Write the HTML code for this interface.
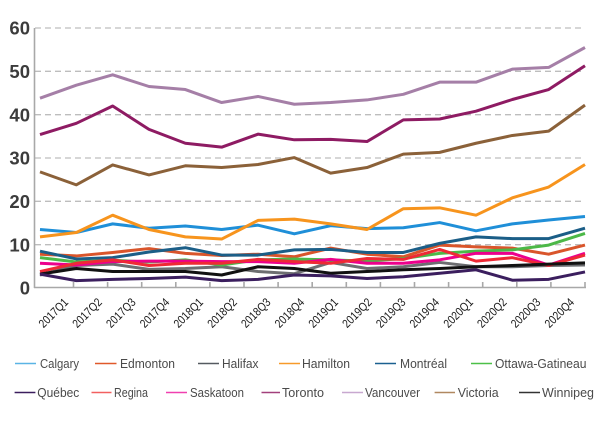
<!DOCTYPE html>
<html><head><meta charset="utf-8"><style>
html,body{margin:0;padding:0;background:#fff;}
svg{display:block;font-family:"Liberation Sans",sans-serif;}
</style></head><body>
<svg width="600" height="432" viewBox="0 0 600 432" xmlns="http://www.w3.org/2000/svg">
<!-- gridlines -->
<g stroke="#bdbdbd" stroke-width="1.3" stroke-dasharray="6,4">
<line x1="35" y1="28" x2="585" y2="28"/>
<line x1="35" y1="71.3" x2="585" y2="71.3"/>
<line x1="35" y1="114.7" x2="585" y2="114.7"/>
<line x1="35" y1="158" x2="585" y2="158"/>
<line x1="35" y1="201.3" x2="585" y2="201.3"/>
<line x1="35" y1="244.7" x2="585" y2="244.7"/>
</g>
<!-- y labels -->
<g font-weight="bold" font-size="18.5" fill="#3c3c3c" text-anchor="end">
<text x="30" y="34.7">60</text>
<text x="30" y="78">50</text>
<text x="30" y="121.4">40</text>
<text x="30" y="164.7">30</text>
<text x="30" y="208">20</text>
<text x="30" y="251.4">10</text>
<text x="30" y="294.7">0</text>
</g>
<!-- axes -->
<g stroke="#a8a8a8" stroke-width="1.6" fill="none">
<line x1="34.5" y1="28" x2="34.5" y2="288"/>
<line x1="34" y1="287.5" x2="586" y2="287.5"/>
<path d="M73.5 282V288M107.6 282V288M141.7 282V288M175.8 282V288M209.9 282V288M244 282V288M278.1 282V288M312.2 282V288M346.3 282V288M380.4 282V288M414.5 282V288M448.6 282V288M482.7 282V288M516.8 282V288M550.9 282V288M585 282V288"/>
</g>
<!-- series -->
<g transform="translate(40,288) scale(36.3333,-4.33333)" fill="none" stroke-width="3" stroke-linejoin="round" stroke-linecap="butt">
<polyline vector-effect="non-scaling-stroke" stroke="#1f8fd8" points="0,13.5 1,12.8 2,14.8 3,13.8 4,14.3 5,13.5 6,14.5 7,12.5 8,14.4 9,13.7 10,13.9 11,15.1 12,13.2 13,14.8 14,15.7 15,16.5"/>
<polyline vector-effect="non-scaling-stroke" stroke="#d9552b" points="0,7.8 1,7.4 2,8.2 3,9.1 4,8.0 5,7.5 6,7.8 7,7.2 8,9.2 9,7.8 10,7.2 11,9.9 12,9.5 13,9.2 14,7.8 15,9.9"/>
<polyline vector-effect="non-scaling-stroke" stroke="#6d6e71" points="0,3.0 1,5.2 2,5.5 3,4.3 4,4.5 5,4.9 6,3.8 7,3.3 8,5.9 9,4.5 10,4.9 11,5.9 12,4.9 13,4.9 14,5.2 15,5.3"/>
<polyline vector-effect="non-scaling-stroke" stroke="#f7941d" points="0,11.8 1,12.8 2,16.8 3,13.5 4,11.8 5,11.3 6,15.6 7,15.9 8,14.8 9,13.5 10,18.3 11,18.5 12,16.8 13,20.8 14,23.3 15,28.5"/>
<polyline vector-effect="non-scaling-stroke" stroke="#1b5e87" points="0,8.5 1,6.7 2,7.0 3,8.3 4,9.3 5,7.6 6,7.6 7,8.8 8,8.9 9,8.2 10,8.2 11,10.3 12,11.8 13,11.4 14,11.4 15,13.8"/>
<polyline vector-effect="non-scaling-stroke" stroke="#4cb848" points="0,7.0 1,6.0 2,6.4 3,6.0 4,6.5 5,5.3 6,6.5 7,6.7 8,6.5 9,6.2 10,6.8 11,8.0 12,8.5 13,8.8 14,9.9 15,12.6"/>
<polyline vector-effect="non-scaling-stroke" stroke="#ec008c" points="0,5.7 1,5.3 2,6.1 3,6.2 4,6.2 5,6.1 6,6.1 7,5.7 8,6.6 9,5.7 10,5.7 11,6.5 12,8.0 13,8.0 14,5.3 15,8.0"/>
<polyline vector-effect="non-scaling-stroke" stroke="#ee2a35" points="0,3.8 1,5.7 2,6.5 3,5.2 4,5.7 5,5.7 6,6.6 7,6.1 8,5.7 9,6.8 10,6.6 11,8.9 12,6.2 13,7.0 14,5.2 15,7.6"/>
<polyline vector-effect="non-scaling-stroke" stroke="#8e1b63" points="0,35.4 1,38.0 2,42.0 3,36.6 4,33.4 5,32.5 6,35.5 7,34.2 8,34.3 9,33.8 10,38.8 11,39.0 12,40.8 13,43.5 14,45.8 15,51.3"/>
<polyline vector-effect="non-scaling-stroke" stroke="#a57fa7" points="0,43.8 1,46.8 2,49.2 3,46.5 4,45.8 5,42.8 6,44.2 7,42.4 8,42.8 9,43.4 10,44.7 11,47.5 12,47.5 13,50.5 14,50.9 15,55.5"/>
<polyline vector-effect="non-scaling-stroke" stroke="#8b6139" points="0,26.8 1,23.8 2,28.4 3,26.1 4,28.2 5,27.8 6,28.5 7,30.1 8,26.5 9,27.8 10,30.9 11,31.3 12,33.4 13,35.2 14,36.2 15,42.2"/>
<polyline vector-effect="non-scaling-stroke" stroke="#111111" points="0,3.2 1,4.5 2,3.8 3,3.8 4,3.8 5,3.0 6,4.9 7,4.5 8,3.4 9,3.8 10,4.2 11,4.5 12,4.9 13,5.2 14,5.5 15,5.8"/>
<polyline vector-effect="non-scaling-stroke" stroke="#3b1e5e" points="0,3.2 1,1.7 2,2.0 3,2.2 4,2.5 5,1.7 6,2.0 7,3.0 8,2.8 9,2.2 10,2.6 11,3.4 12,4.2 13,1.8 14,2.0 15,3.7"/>
</g>
<!-- x labels -->
<g font-size="12" fill="#1a1a1a" text-anchor="end">
<text x="69" y="303" transform="rotate(-45 69 303)" textLength="36" lengthAdjust="spacingAndGlyphs">2017Q1</text>
<text x="102.7" y="303" transform="rotate(-45 102.7 303)" textLength="36" lengthAdjust="spacingAndGlyphs">2017Q2</text>
<text x="136.5" y="303" transform="rotate(-45 136.5 303)" textLength="36" lengthAdjust="spacingAndGlyphs">2017Q3</text>
<text x="170.2" y="303" transform="rotate(-45 170.2 303)" textLength="36" lengthAdjust="spacingAndGlyphs">2017Q4</text>
<text x="203.9" y="303" transform="rotate(-45 203.9 303)" textLength="36" lengthAdjust="spacingAndGlyphs">2018Q1</text>
<text x="237.7" y="303" transform="rotate(-45 237.7 303)" textLength="36" lengthAdjust="spacingAndGlyphs">2018Q2</text>
<text x="271.4" y="303" transform="rotate(-45 271.4 303)" textLength="36" lengthAdjust="spacingAndGlyphs">2018Q3</text>
<text x="305.1" y="303" transform="rotate(-45 305.1 303)" textLength="36" lengthAdjust="spacingAndGlyphs">2018Q4</text>
<text x="338.8" y="303" transform="rotate(-45 338.8 303)" textLength="36" lengthAdjust="spacingAndGlyphs">2019Q1</text>
<text x="372.6" y="303" transform="rotate(-45 372.6 303)" textLength="36" lengthAdjust="spacingAndGlyphs">2019Q2</text>
<text x="406.3" y="303" transform="rotate(-45 406.3 303)" textLength="36" lengthAdjust="spacingAndGlyphs">2019Q3</text>
<text x="440" y="303" transform="rotate(-45 440 303)" textLength="36" lengthAdjust="spacingAndGlyphs">2019Q4</text>
<text x="473.8" y="303" transform="rotate(-45 473.8 303)" textLength="36" lengthAdjust="spacingAndGlyphs">2020Q1</text>
<text x="507.5" y="303" transform="rotate(-45 507.5 303)" textLength="36" lengthAdjust="spacingAndGlyphs">2020Q2</text>
<text x="541.2" y="303" transform="rotate(-45 541.2 303)" textLength="36" lengthAdjust="spacingAndGlyphs">2020Q3</text>
<text x="575" y="303" transform="rotate(-45 575 303)" textLength="36" lengthAdjust="spacingAndGlyphs">2020Q4</text>
</g>
<!-- legend -->
<g stroke-width="1.6">
<line x1="15" y1="363.5" x2="36" y2="363.5" stroke="#5ab4e5"/>
<line x1="95" y1="363.5" x2="116.5" y2="363.5" stroke="#e0592a"/>
<line x1="198" y1="363.5" x2="219" y2="363.5" stroke="#555a60"/>
<line x1="279" y1="363.5" x2="300" y2="363.5" stroke="#f79a2a"/>
<line x1="375" y1="363.5" x2="396" y2="363.5" stroke="#1b6090"/>
<line x1="471" y1="363.5" x2="492" y2="363.5" stroke="#4cc048"/>
<line x1="14.6" y1="392.5" x2="35.4" y2="392.5" stroke="#3b1e5e"/>
<line x1="91.5" y1="392.5" x2="111.5" y2="392.5" stroke="#f26060"/>
<line x1="166" y1="392.5" x2="187" y2="392.5" stroke="#f040b0"/>
<line x1="261.5" y1="392.5" x2="280" y2="392.5" stroke="#a2407c"/>
<line x1="342" y1="392.5" x2="363" y2="392.5" stroke="#c8a8d0"/>
<line x1="434.6" y1="392.5" x2="455" y2="392.5" stroke="#b08860"/>
<line x1="519" y1="392.5" x2="540" y2="392.5" stroke="#333333"/>
</g>
<g font-size="13" fill="#4a4a4a">
<text x="40" y="368" textLength="39" lengthAdjust="spacingAndGlyphs">Calgary</text>
<text x="120" y="368" textLength="55" lengthAdjust="spacingAndGlyphs">Edmonton</text>
<text x="222" y="368" textLength="36.5" lengthAdjust="spacingAndGlyphs">Halifax</text>
<text x="302" y="368" textLength="48" lengthAdjust="spacingAndGlyphs">Hamilton</text>
<text x="400" y="368" textLength="47" lengthAdjust="spacingAndGlyphs">Montréal</text>
<text x="495" y="368" textLength="91.5" lengthAdjust="spacingAndGlyphs">Ottawa-Gatineau</text>
<text x="37.3" y="397" textLength="42" lengthAdjust="spacingAndGlyphs">Québec</text>
<text x="114" y="397" textLength="34" lengthAdjust="spacingAndGlyphs">Regina</text>
<text x="190" y="397" textLength="54" lengthAdjust="spacingAndGlyphs">Saskatoon</text>
<text x="282" y="397" textLength="42" lengthAdjust="spacingAndGlyphs">Toronto</text>
<text x="365" y="397" textLength="55" lengthAdjust="spacingAndGlyphs">Vancouver</text>
<text x="457.7" y="397" textLength="41" lengthAdjust="spacingAndGlyphs">Victoria</text>
<text x="542" y="397" textLength="52" lengthAdjust="spacingAndGlyphs">Winnipeg</text>
</g>
</svg>
</body></html>
